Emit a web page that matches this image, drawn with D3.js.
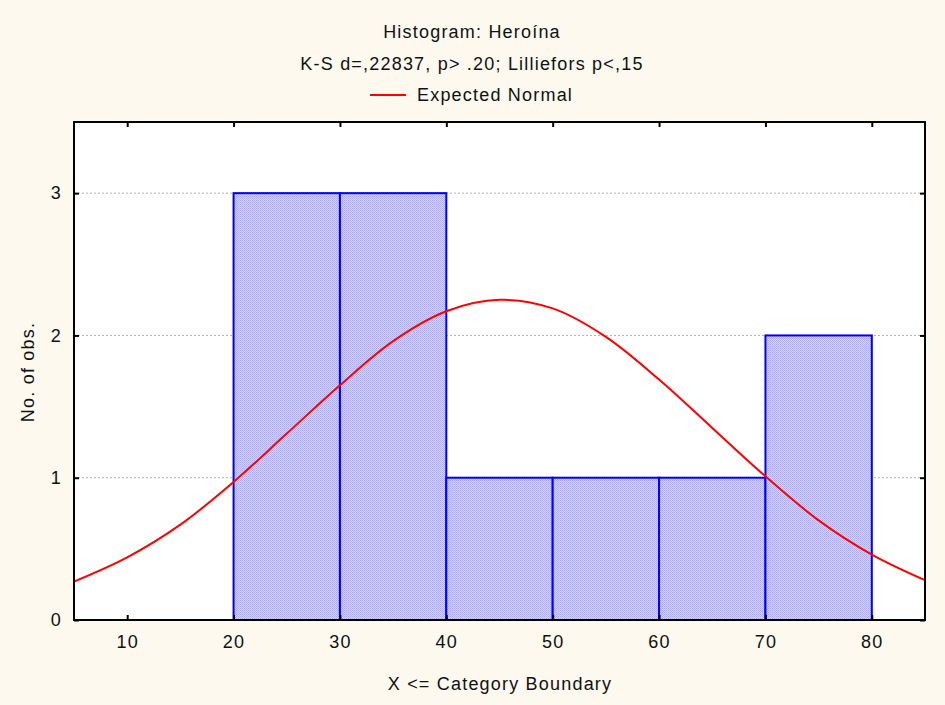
<!DOCTYPE html>
<html>
<head>
<meta charset="utf-8">
<script src="https://cdn.jsdelivr.net/npm/d3@7"></script>
<style>
  body { margin: 0; background: #fdf9ef; }
  text { font-family: "Liberation Sans", Arial, sans-serif; fill: #111; }
</style>
</head>
<body>
<div id="chart"></div>
<script>
// histogram bins (lower bound, upper bound, count)
const binStarts = [10, 20, 30, 40, 50, 60, 70];
const binEnds = [20, 30, 40, 50, 60, 70, 80];
const counts = [0, 3, 3, 1, 1, 1, 2];

// expected normal curve
const curveX = [5, 10, 15, 20, 25, 30, 35, 40, 45, 50, 55, 60, 65, 70, 75, 80, 85];
const curveY = [0.27, 0.44, 0.67, 0.97, 1.31, 1.65, 1.96, 2.17, 2.25, 2.19, 1.99, 1.69, 1.35, 1.01, 0.70, 0.46, 0.28];

const xTicks = [10, 20, 30, 40, 50, 60, 70, 80];
const yTicks = [0, 1, 2, 3];

const W = 945, H = 705;
const margin = { top: 122, right: 20, bottom: 85, left: 74 };
const width = W - margin.left - margin.right,
    height = H - margin.top - margin.bottom;

const FS = 18, LS = "1.2px";

const svg = d3.select("#chart")
    .append("svg")
    .attr("width", W)
    .attr("height", H);

// hatch-like fill for the bars
const defs = svg.append("defs");
const pat = defs.append("pattern")
    .attr("id", "hatch")
    .attr("width", 2).attr("height", 2)
    .attr("patternUnits", "userSpaceOnUse");
pat.append("rect").attr("width", 2).attr("height", 2).attr("fill", "#d4d4ff");
pat.append("rect").attr("width", 1).attr("height", 1).attr("fill", "#a8a8f4");
pat.append("rect").attr("x", 1).attr("y", 1).attr("width", 1).attr("height", 1).attr("fill", "#b4b4f8");

const g = svg.append("g")
    .attr("transform", `translate(${margin.left},${margin.top})`);

const x = d3.scaleLinear().domain([5, 85]).range([0, width]);
const y = d3.scaleLinear().domain([0, 3.5]).range([height, 0]);

// plot background
g.append("rect")
    .attr("width", width)
    .attr("height", height)
    .attr("fill", "#fff");

// grid lines
g.append("g")
    .selectAll("line")
    .data(yTicks.filter(d => d > 0))
    .join("line")
    .attr("x1", 0).attr("x2", width)
    .attr("y1", d => y(d)).attr("y2", d => y(d))
    .attr("stroke", "#b0b0b0")
    .attr("stroke-dasharray", "2,2")
    .attr("stroke-width", 1);

// bars
const bins = binStarts.map((s, i) => ({ x0: s, x1: binEnds[i], n: counts[i] }));
g.append("g")
    .selectAll("rect")
    .data(bins.filter(d => d.n > 0))
    .join("rect")
    .attr("x", d => x(d.x0))
    .attr("y", d => y(d.n))
    .attr("width", d => x(d.x1) - x(d.x0))
    .attr("height", d => y(0) - y(d.n))
    .attr("fill", "url(#hatch)")
    .attr("stroke", "#0000ff")
    .attr("stroke-width", 2);

// empty bin drawn as a line on the baseline
g.append("g")
    .selectAll("line")
    .data(bins.filter(d => d.n === 0))
    .join("line")
    .attr("x1", d => x(d.x0)).attr("x2", d => x(d.x1))
    .attr("y1", y(0)).attr("y2", y(0))
    .attr("stroke", "#0000ff")
    .attr("stroke-width", 2);

// expected normal
const pts = curveX.map((v, i) => [v, curveY[i]]);
g.append("path")
    .datum(pts)
    .attr("fill", "none")
    .attr("stroke", "#ff0000")
    .attr("stroke-width", 2)
    .attr("d", d3.line()
        .x(d => x(d[0]))
        .y(d => y(d[1]))
        .curve(d3.curveCatmullRom));

// axes, ticks pointing inward
const tickLen = 5;
const styleText = a => a.selectAll("text")
    .attr("font-size", FS)
    .attr("font-family", "Liberation Sans, Arial")
    .attr("letter-spacing", LS)
    .attr("fill", "#111");

g.append("g")
    .attr("transform", `translate(0,${height})`)
    .call(d3.axisBottom(x).tickValues(xTicks).tickFormat(d3.format("d")).tickSizeInner(-tickLen).tickSizeOuter(0).tickPadding(15))
    .call(a => a.select(".domain").remove())
    .call(a => a.selectAll("line").attr("stroke", "#000").attr("stroke-width", 2))
    .call(styleText);

g.append("g")
    .call(d3.axisTop(x).tickValues(xTicks).tickSizeInner(-tickLen).tickSizeOuter(0).tickFormat(""))
    .call(a => a.select(".domain").remove())
    .call(a => a.selectAll("line").attr("stroke", "#000").attr("stroke-width", 2));

g.append("g")
    .call(d3.axisLeft(y).tickValues(yTicks).tickFormat(d3.format("d")).tickSizeInner(-tickLen).tickSizeOuter(0).tickPadding(12))
    .call(a => a.select(".domain").remove())
    .call(a => a.selectAll("line").attr("stroke", "#000").attr("stroke-width", 2))
    .call(styleText);

g.append("g")
    .attr("transform", `translate(${width},0)`)
    .call(d3.axisRight(y).tickValues(yTicks).tickSizeInner(-tickLen).tickSizeOuter(0).tickFormat(""))
    .call(a => a.select(".domain").remove())
    .call(a => a.selectAll("line").attr("stroke", "#000").attr("stroke-width", 2));

// frame
g.append("rect")
    .attr("width", width)
    .attr("height", height)
    .attr("fill", "none")
    .attr("stroke", "#000")
    .attr("stroke-width", 2);

// titles
svg.append("text")
    .attr("x", 472).attr("y", 38)
    .attr("text-anchor", "middle")
    .attr("font-size", FS).attr("letter-spacing", LS)
    .text("Histogram: Heroína");

svg.append("text")
    .attr("x", 472).attr("y", 70)
    .attr("text-anchor", "middle")
    .attr("font-size", FS).attr("letter-spacing", LS)
    .text("K-S d=,22837, p> .20; Lilliefors p<,15");

// legend
svg.append("line")
    .attr("x1", 370).attr("x2", 406)
    .attr("y1", 95).attr("y2", 95)
    .attr("stroke", "#ff0000")
    .attr("stroke-width", 2);
svg.append("text")
    .attr("x", 417).attr("y", 101)
    .attr("font-size", FS).attr("letter-spacing", LS)
    .text("Expected Normal");

// axis labels
svg.append("text")
    .attr("x", 500).attr("y", 690)
    .attr("text-anchor", "middle")
    .attr("font-size", FS).attr("letter-spacing", LS)
    .text("X <= Category Boundary");

svg.append("text")
    .attr("transform", "translate(34,372) rotate(-90)")
    .attr("text-anchor", "middle")
    .attr("font-size", FS).attr("letter-spacing", LS)
    .text("No. of obs.");
</script>
</body>
</html>
